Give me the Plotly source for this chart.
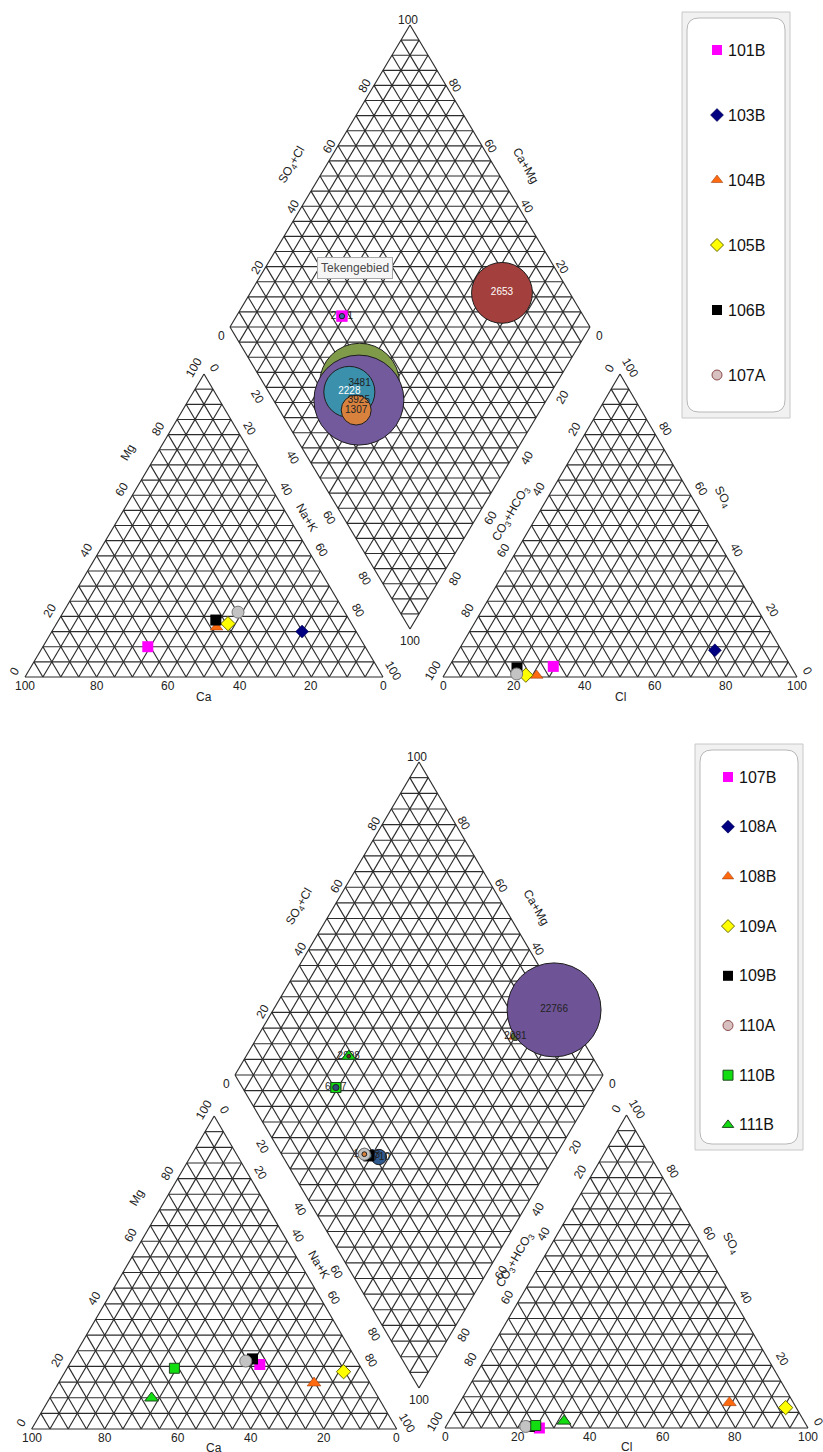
import math
import plotly.graph_objects as go

# ---------------- DATA (% meq) ----------------
# upper Piper diagram
top_samples = ["101B", "103B", "104B", "105B", "106B", "107A"]
top_ca = [60.7, 15.1, 38.3, 34.5, 37.3, 29.8]
top_mg = [10.0, 15.0, 16.4, 17.6, 18.8, 21.4]
top_nak = [29.3, 69.9, 45.3, 47.9, 43.9, 48.8]
top_so4 = [3.5, 8.8, 0.5, 0.6, 3.0, 1.0]
top_cl = [29.4, 72.4, 26.2, 23.1, 19.4, 20.3]
top_hco3 = [67.1, 18.8, 73.3, 76.3, 77.6, 78.7]
top_tds_label = ["2541", "2653", "3481", "3925", "2228", "1307"]
top_tds_size = [230, 2653, 3481, 3925, 2228, 1307]

# lower Piper diagram (108A has no plotted values)
bot_samples = ["107B", "108A", "108B", "109A", "109B", "110A", "110B", "111B"]
bot_ca = [27.2, None, 15.3, 5.4, 28.3, 30.5, 51.2, 62.2]
bot_mg = [20.6, None, 14.7, 18.3, 22.4, 21.7, 19.4, 9.9]
bot_nak = [52.2, None, 70.0, 76.3, 49.3, 47.8, 29.4, 27.9]
bot_so4 = [0.0, None, 8.1, 6.5, 0.5, 0.5, 0.8, 2.2]
bot_cl = [26.0, None, 74.3, 90.6, 23.0, 22.0, 24.6, 31.7]
bot_hco3 = [74.0, None, 17.6, 2.9, 76.5, 77.5, 74.6, 66.1]
bot_tds_label = ["3710", "", "2081", "22766", "1283", "1160", "6117", "2998"]
bot_tds_size = [3710, None, 2081, 22766, 1283, 1160, 1500, 900]

tick_values = [0, 20, 40, 60, 80, 100]

# ---------------- styles ----------------
LINE = "#2c2c2c"
FONT = "Liberation Sans, Arial, sans-serif"
TXT = "#222222"

top_styles = [
    dict(symbol="square", color="#ff00ff", size=11, line=dict(width=0)),
    dict(symbol="diamond", color="#000080", size=10, line=dict(width=0.5, color="#000040")),
    dict(symbol="triangle-up", color="#ff6a10", size=11, line=dict(width=0.5, color="#8a3000")),
    dict(symbol="diamond", color="#ffff00", size=11, line=dict(width=1, color="#6a6a00")),
    dict(symbol="square", color="#000000", size=11, line=dict(width=0)),
    dict(symbol="circle", color="#c3c3c3", size=12, line=dict(width=1, color="#777777")),
]
top_legend_styles = list(top_styles)
top_legend_styles[5] = dict(symbol="circle", color="#d8c0c0", size=10, line=dict(width=1, color="#8a4a4a"))
top_bubble_colors = ["#3a6aa8", "#a33f3c", "#7f9a48", "#735a9c", "#3b90ac", "#d9823e"]
top_label_colors = ["#222", "#ffffff", "#222", "#222", "#ffffff", "#222"]

bot_styles = [
    dict(symbol="square", color="#ff00ff", size=11, line=dict(width=0)),
    dict(symbol="diamond", color="#000080", size=10, line=dict(width=0.5, color="#000040")),
    dict(symbol="triangle-up", color="#ff6a10", size=12, line=dict(width=0.5, color="#8a3000")),
    dict(symbol="diamond", color="#ffff00", size=11, line=dict(width=1, color="#6a6a00")),
    dict(symbol="square", color="#000000", size=11, line=dict(width=0)),
    dict(symbol="circle", color="#c3c3c3", size=12, line=dict(width=1, color="#777777")),
    dict(symbol="square", color="#11dd11", size=10, line=dict(width=1, color="#1e4a1e")),
    dict(symbol="triangle-up", color="#11dd11", size=12, line=dict(width=1, color="#1e4a1e")),
]
bot_legend_styles = list(bot_styles)
bot_legend_styles[5] = dict(symbol="circle", color="#d8c0c0", size=10, line=dict(width=1, color="#8a4a4a"))
bot_bubble_colors = ["#2f5a90", "#a33f3c", "#5e7530", "#6e5496", "#3b90ac", "#d9823e", "#2c4d75", "#772c2a"]
bot_label_colors = ["#222"] * 8

# ---------------- geometry (pixel layout) ----------------
TOP = dict(
    cat=((25, 677), (383, 677), (204, 374)),    # Ca, Na+K, Mg corners
    an=((443, 677), (797, 677), (620, 374)),    # CO3+HCO3, Cl, SO4 corners
    dia=((230, 327), (410, 25), (410, 629)),    # left, top, bottom corners
    bubble_max=90,
    hidden_right=(),
    base_lab=9, title_lab=20, dia_dy=5,
    legend=dict(box=(682, 12, 790, 418), y0=50, dy=65, mx=717, tx=726),
)
BOT = dict(
    cat=((31.7, 1429), (396.7, 1429), (214.2, 1116)),
    an=((445, 1428), (808, 1428), (626.5, 1115)),
    dia=((235, 1075), (419, 762), (419, 1388)),
    bubble_max=94,
    hidden_right=(20,),
    base_lab=9, title_lab=19, dia_dy=4,
    legend=dict(box=(695, 744, 803, 1150), y0=777, dy=49.7, mx=728, tx=737),
)


def lerp(p, q, t):
    return (p[0] + (q[0] - p[0]) * t, p[1] + (q[1] - p[1]) * t)


def bary(V, a, b, c):
    s = a + b + c
    return ((a * V[0][0] + b * V[1][0] + c * V[2][0]) / s,
            (a * V[0][1] + b * V[1][1] + c * V[2][1]) / s)


def dia_pt(D, u, v):
    L, T, B = D
    return (L[0] + u * (T[0] - L[0]) + v * (B[0] - L[0]),
            L[1] + u * (T[1] - L[1]) + v * (B[1] - L[1]))


segx, segy = [], []


def seg(p, q):
    segx.extend([p[0], q[0], None])
    segy.extend([p[1], q[1], None])


def tri_grid(V):
    for i in range(3):
        j, k = (i + 1) % 3, (i + 2) % 3
        for n in range(20):
            t = n / 20
            seg(lerp(V[j], V[i], t), lerp(V[k], V[i], t))


def dia_grid(D):
    for n in range(21):
        t = n / 20
        seg(dia_pt(D, t, 0), dia_pt(D, t, 1))
        seg(dia_pt(D, 0, t), dia_pt(D, 1, t))
    for n in range(-19, 20):
        d = n / 20
        if d >= 0:
            seg(dia_pt(D, d, 0), dia_pt(D, 1, 1 - d))
        else:
            seg(dia_pt(D, 0, -d), dia_pt(D, 1 + d, 1))


annotations = []


def label(x, y, text, angle=0, size=12, color=TXT):
    annotations.append(dict(x=x, y=y, xref="x", yref="y", text=text, showarrow=False,
                            textangle=angle, font=dict(family=FONT, size=size, color=color),
                            xanchor="center", yanchor="middle"))


NL = (-0.866, -0.5)   # outward normal, upper-left edges
NR = (0.866, -0.5)    # outward normal, upper-right edges


def edge_labels(P0, P1, values, normal, off, angle, skip=(), dy=0):
    for v in values:
        if v in skip:
            continue
        p = lerp(P0, P1, v / 100)
        label(p[0] + normal[0] * off, p[1] + normal[1] * off + dy, str(v), angle)


def draw_diagram(G):
    cat, an, D = G["cat"], G["an"], G["dia"]
    tri_grid(cat)
    tri_grid(an)
    dia_grid(D)
    L, T, B = D
    R = (T[0] + B[0] - L[0], T[1] + B[1] - L[1])
    bl, tl, ddy = G["base_lab"], G["title_lab"], G["dia_dy"]
    # cation triangle
    for v in tick_values:
        p = lerp(cat[0], cat[1], v / 100)
        label(p[0], p[1] + bl, str(100 - v))
    label((cat[0][0] + cat[1][0]) / 2, cat[0][1] + tl, "Ca")
    edge_labels(cat[0], cat[2], tick_values, NL, 12, -60)
    pm = lerp(cat[0], cat[2], 0.7)
    label(pm[0] + NL[0] * 26, pm[1] + NL[1] * 26, "Mg", -60)
    edge_labels(cat[2], cat[1], tick_values, NR, 12, 60)
    pm = lerp(cat[2], cat[1], 0.5)
    label(pm[0] + NR[0] * 16, pm[1] + NR[1] * 16, "Na+K", 60)
    # anion triangle
    for v in tick_values:
        p = lerp(an[0], an[1], v / 100)
        label(p[0], p[1] + bl, str(v))
    label((an[0][0] + an[1][0]) / 2, an[0][1] + tl, "Cl")
    for v in tick_values:
        p = lerp(an[0], an[2], v / 100)
        label(p[0] + NL[0] * 12, p[1] + NL[1] * 12, str(100 - v), -60)
    pm = lerp(an[0], an[2], 0.5)
    label(pm[0] + NL[0] * 24, pm[1] + NL[1] * 24, "CO<sub>3</sub>+HCO<sub>3</sub>", -60)
    for v in tick_values:
        p = lerp(an[1], an[2], v / 100)
        label(p[0] + NR[0] * 12, p[1] + NR[1] * 12, str(v), 60)
    pm = lerp(an[1], an[2], 0.55)
    label(pm[0] + NR[0] * 26, pm[1] + NR[1] * 26, "SO<sub>4</sub>", 60)
    # diamond
    label(T[0] - 2, T[1] - 5, "100")
    label(B[0], B[1] + 12, "100")
    label(L[0] - 9, L[1] + 9, "0")
    label(R[0] + 9, R[1] + 9, "0")
    edge_labels(L, T, [20, 40, 60, 80], NL, 10, -60, dy=ddy)
    pm = lerp(L, T, 0.5)
    label(pm[0] + NL[0] * 32, pm[1] + NL[1] * 32 + ddy, "SO<sub>4</sub>+Cl", -60)
    edge_labels(R, T, [20, 40, 60, 80], NR, 10, 60, skip=G["hidden_right"], dy=ddy)
    pm = lerp(R, T, 0.5)
    label(pm[0] + NR[0] * 30, pm[1] + NR[1] * 30 + ddy, "Ca+Mg", 60)
    edge_labels(L, B, [20, 40, 60, 80], (-0.866, 0.5), 10, 60, dy=ddy)
    edge_labels(R, B, [20, 40, 60, 80], (0.866, 0.5), 10, -60, dy=ddy)


draw_diagram(TOP)
draw_diagram(BOT)

fig = go.Figure()
fig.add_trace(go.Scatter(x=segx, y=segy, mode="lines", line=dict(color=LINE, width=1.15),
                         hoverinfo="skip", showlegend=False))


def add_samples(G, names, ca, mg, nak, so4, cl, hco3, styles, bcolors, lcolors,
                tds_label, tds_size):
    cat, an, D = G["cat"], G["an"], G["dia"]
    valid = [v for v in tds_size if v is not None]
    vmax = max(valid)
    dia_pts, diam = [], []
    for i, name in enumerate(names):
        st = styles[i]
        mk = dict(symbol=st["symbol"], color=st["color"], size=st["size"], line=st["line"])
        if ca[i] is None:
            dia_pts.append(None)
            diam.append(0)
            continue
        pc = bary(cat, ca[i], nak[i], mg[i])
        pa = bary(an, hco3[i], cl[i], so4[i])
        u = (so4[i] + cl[i]) / (so4[i] + cl[i] + hco3[i])
        v = nak[i] / (ca[i] + mg[i] + nak[i])
        pd = dia_pt(D, u, v)
        dia_pts.append(pd)
        diam.append(G["bubble_max"] * tds_size[i] / vmax)
        fig.add_trace(go.Scatter(x=[pc[0], pa[0]], y=[pc[1], pa[1]],
                                 mode="markers", marker=mk, name=name, showlegend=False))
    small = [dia_pts[i] is not None and diam[i] < 12 for i in range(len(names))]
    big = [dia_pts[i] is not None and not small[i] for i in range(len(names))]

    def marker_in_diamond(i):
        st = styles[i]
        fig.add_trace(go.Scatter(x=[dia_pts[i][0]], y=[dia_pts[i][1]], mode="markers",
                                 marker=dict(symbol=st["symbol"], color=st["color"],
                                             size=st["size"], line=st["line"]),
                                 showlegend=False, hoverinfo="skip"))

    def bubble(i):
        fig.add_trace(go.Scatter(x=[dia_pts[i][0]], y=[dia_pts[i][1]], mode="markers",
                                 marker=dict(size=diam[i], color=bcolors[i],
                                             line=dict(width=1, color="#1e1e1e")),
                                 showlegend=False, hoverinfo="skip"))

    def text(i):
        fig.add_trace(go.Scatter(x=[dia_pts[i][0]], y=[dia_pts[i][1]], mode="text",
                                 text=[tds_label[i]],
                                 textfont=dict(family=FONT, size=10, color=lcolors[i]),
                                 showlegend=False, hoverinfo="skip"))

    for i in range(len(names)):
        if small[i]:
            marker_in_diamond(i)
            bubble(i)
    for i in range(len(names)):
        if big[i]:
            marker_in_diamond(i)
            bubble(i)
    for i in range(len(names)):
        if dia_pts[i] is not None:
            text(i)
    # tiny markers sit above their own labels, as in the source chart
    for i in range(len(names)):
        if small[i] and diam[i] < 7:
            marker_in_diamond(i)
            bubble(i)


add_samples(TOP, top_samples, top_ca, top_mg, top_nak, top_so4, top_cl, top_hco3,
            top_styles, top_bubble_colors, top_label_colors, top_tds_label, top_tds_size)
add_samples(BOT, bot_samples, bot_ca, bot_mg, bot_nak, bot_so4, bot_cl, bot_hco3,
            bot_styles, bot_bubble_colors, bot_label_colors, bot_tds_label, bot_tds_size)

shapes = []


def legend(G, names, styles):
    lg = G["legend"]
    x0, y0, x1, y1 = lg["box"]
    shapes.append(dict(type="rect", xref="x", yref="y", x0=x0, y0=y0, x1=x1, y1=y1,
                       line=dict(color="#c8c8c8", width=1), fillcolor="#f1f1f1", layer="below"))
    r = 12
    a0, b0, a1, b1 = x0 + 5, y0 + 6, x1 - 5, y1 - 6
    path = (f"M {a0 + r},{b0} L {a1 - r},{b0} Q {a1},{b0} {a1},{b0 + r} "
            f"L {a1},{b1 - r} Q {a1},{b1} {a1 - r},{b1} L {a0 + r},{b1} "
            f"Q {a0},{b1} {a0},{b1 - r} L {a0},{b0 + r} Q {a0},{b0} {a0 + r},{b0} Z")
    shapes.append(dict(type="path", xref="x", yref="y", path=path,
                       line=dict(color="#b8b8b8", width=1), fillcolor="#ffffff", layer="below"))
    for i, name in enumerate(names):
        st = styles[i]
        y = lg["y0"] + i * lg["dy"]
        fig.add_trace(go.Scatter(x=[lg["mx"]], y=[y], mode="markers",
                                 marker=dict(symbol=st["symbol"], color=st["color"],
                                             size=min(st["size"], 10), line=st["line"]),
                                 showlegend=False, hoverinfo="skip"))
        annotations.append(dict(x=lg["tx"], y=y, xref="x", yref="y", text=name, showarrow=False,
                                xanchor="left", yanchor="middle",
                                font=dict(family=FONT, size=16, color="#111")))


legend(TOP, top_samples, top_legend_styles)
legend(BOT, bot_samples, bot_legend_styles)

annotations.append(dict(x=355, y=268, xref="x", yref="y", text="Tekengebied", showarrow=False,
                        font=dict(family=FONT, size=12, color="#4a4a4a"),
                        bgcolor="#f6f6f6", bordercolor="#a8a8a8", borderwidth=1, borderpad=3))

fig.update_layout(
    width=823, height=1452,
    margin=dict(l=0, r=0, t=0, b=0),
    paper_bgcolor="white", plot_bgcolor="white",
    xaxis=dict(range=[0, 823], visible=False, fixedrange=True),
    yaxis=dict(range=[1452, 0], visible=False, fixedrange=True),
    annotations=annotations, shapes=shapes, showlegend=False,
)
fig.write_html("out.html")
